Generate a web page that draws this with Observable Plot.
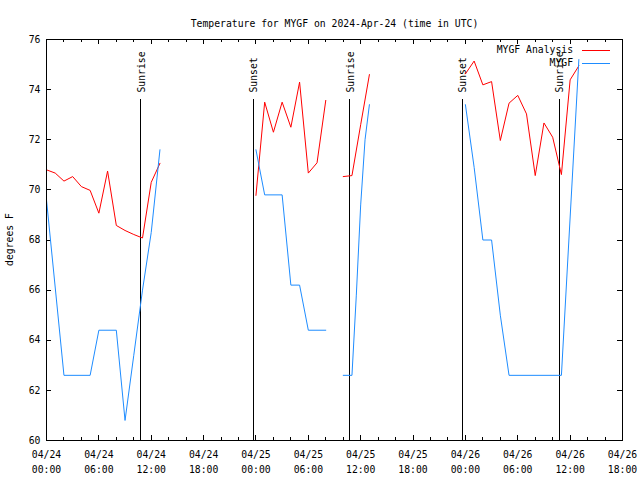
<!DOCTYPE html>
<html>
<head>
<meta charset="utf-8">
<script src="https://cdn.jsdelivr.net/npm/d3@7"></script>
<script src="https://cdn.jsdelivr.net/npm/@observablehq/plot@0.6"></script>
<style>
  html, body { margin: 0; padding: 0; background: white; }
</style>
</head>
<body>
<div id="chart"></div>
<script>
// ---- Data ----
const chartTitle = "Temperature for MYGF on 2024-Apr-24 (time in UTC)";
const yLabel = "degrees F";

// MYGF Analysis (red); null = gap in the record
const analysisTimes = [
  "2024-04-24T00:00Z","2024-04-24T01:00Z","2024-04-24T02:00Z","2024-04-24T03:00Z","2024-04-24T04:00Z",
  "2024-04-24T05:00Z","2024-04-24T06:00Z","2024-04-24T07:00Z","2024-04-24T08:00Z","2024-04-24T09:00Z",
  "2024-04-24T10:00Z","2024-04-24T11:00Z","2024-04-24T12:00Z","2024-04-24T13:00Z",
  "2024-04-24T18:00Z",
  "2024-04-25T00:00Z","2024-04-25T01:00Z","2024-04-25T02:00Z","2024-04-25T03:00Z","2024-04-25T04:00Z",
  "2024-04-25T05:00Z","2024-04-25T06:00Z","2024-04-25T07:00Z","2024-04-25T08:00Z",
  "2024-04-25T09:30Z",
  "2024-04-25T10:00Z","2024-04-25T11:00Z","2024-04-25T12:00Z","2024-04-25T13:00Z",
  "2024-04-25T18:00Z",
  "2024-04-26T00:00Z","2024-04-26T01:00Z","2024-04-26T02:00Z","2024-04-26T03:00Z","2024-04-26T04:00Z",
  "2024-04-26T05:00Z","2024-04-26T06:00Z","2024-04-26T07:00Z","2024-04-26T08:00Z","2024-04-26T09:00Z",
  "2024-04-26T10:00Z","2024-04-26T11:00Z","2024-04-26T12:00Z","2024-04-26T13:00Z"
];
const analysisTemps = [
  70.80, 70.67, 70.35, 70.53, 70.13,
  69.98, 69.07, 70.75, 68.58, 68.38,
  68.22, 68.08, 70.30, 71.06,
  null,
  69.78, 73.50, 72.30, 73.50, 72.50,
  74.30, 70.67, 71.08, 73.57,
  null,
  70.53, 70.57, 72.60, 74.60,
  null,
  74.63, 75.14, 74.19, 74.32, 71.97,
  73.46, 73.77, 73.03, 70.57, 72.67,
  72.10, 70.61, 74.39, 74.95
];

// MYGF observations (blue); null = gap in the record
const obsTimes = [
  "2024-04-24T00:00Z","2024-04-24T02:00Z","2024-04-24T05:00Z","2024-04-24T06:00Z","2024-04-24T08:00Z",
  "2024-04-24T09:00Z","2024-04-24T10:00Z","2024-04-24T11:00Z","2024-04-24T12:00Z","2024-04-24T13:00Z",
  "2024-04-24T18:00Z",
  "2024-04-25T00:00Z","2024-04-25T01:00Z","2024-04-25T03:00Z","2024-04-25T04:00Z","2024-04-25T05:00Z",
  "2024-04-25T06:00Z","2024-04-25T08:00Z",
  "2024-04-25T09:30Z",
  "2024-04-25T10:00Z","2024-04-25T11:00Z","2024-04-25T11:30Z","2024-04-25T12:00Z","2024-04-25T12:30Z",
  "2024-04-25T13:00Z",
  "2024-04-25T18:00Z",
  "2024-04-26T00:00Z","2024-04-26T01:00Z","2024-04-26T02:00Z","2024-04-26T03:00Z","2024-04-26T04:00Z",
  "2024-04-26T05:00Z","2024-04-26T11:00Z","2024-04-26T13:00Z"
];
const obsTemps = [
  69.6, 62.6, 62.6, 64.4, 64.4,
  60.8, 63.4, 66.0, 68.3, 71.6,
  null,
  71.6, 69.8, 69.8, 66.2, 66.2,
  64.4, 64.4,
  null,
  62.6, 62.6, 65.8, 69.4, 72.0,
  73.4,
  null,
  73.4, 70.9, 68.0, 68.0, 65.0,
  62.6, 62.6, 75.2
];

// Sunrise / sunset markers
const eventTimes = ["2024-04-24T10:47Z","2024-04-24T23:41Z","2024-04-25T10:46Z","2024-04-25T23:38Z","2024-04-26T10:44Z"];
const eventLabels = ["Sunrise","Sunset","Sunrise","Sunset","Sunrise"];

// Axis ticks
const xStart = "2024-04-24T00:00Z";
const xEnd = "2024-04-26T18:00Z";
const yTicks = [60, 62, 64, 66, 68, 70, 72, 74, 76];

// Legend
const seriesNames = ["MYGF Analysis", "MYGF"];
const seriesColors = ["#ff0000", "#1e8cff"];

// ---- Build tables ----
const analysis = analysisTimes.map((t, i) => ({time: new Date(t), temp: analysisTemps[i]}));
const obs = obsTimes.map((t, i) => ({time: new Date(t), temp: obsTemps[i]}));
const events = eventTimes.map((t, i) => ({time: new Date(t), label: eventLabels[i]}));
const x0 = new Date(xStart), x1 = new Date(xEnd);
const xMajor = d3.utcHour.every(6).range(x0, new Date(+x1 + 1));
const xMinor = d3.utcHour.every(2).range(x0, new Date(+x1 + 1)).filter(d => d.getUTCHours() % 6 !== 0);

const W = 640, H = 480;
const mL = 46, mR = 18, mT = 39, mB = 40;
const innerH = H - mT - mB;
const innerW = W - mL - mR;
const FONT = "'DejaVu Sans Mono', monospace";

const plot = Plot.plot({
  width: W,
  height: H,
  marginLeft: mL,
  marginRight: mR,
  marginTop: mT,
  marginBottom: mB,
  style: {fontFamily: FONT, fontSize: "9.75px", background: "white", color: "black"},
  x: {type: "utc", domain: [x0, x1]},
  y: {domain: [60, 76]},
  marks: [
    // tick marks (inside, mirrored)
    Plot.tickX(xMajor, {x: d => d, insetTop: innerH - 5, stroke: "black", shapeRendering: "crispEdges"}),
    Plot.tickX(xMajor, {x: d => d, insetBottom: innerH - 5, stroke: "black", shapeRendering: "crispEdges"}),
    Plot.tickX(xMinor, {x: d => d, insetTop: innerH - 3, stroke: "black", shapeRendering: "crispEdges"}),
    Plot.tickX(xMinor, {x: d => d, insetBottom: innerH - 3, stroke: "black", shapeRendering: "crispEdges"}),
    Plot.tickY(yTicks, {y: d => d, insetRight: innerW - 5, stroke: "black", shapeRendering: "crispEdges"}),
    Plot.tickY(yTicks, {y: d => d, insetLeft: innerW - 5, stroke: "black", shapeRendering: "crispEdges"}),
    Plot.axisX({ticks: xMajor, tickFormat: d3.utcFormat("%m/%d\n%H:%M"), tickSize: 0, tickPadding: 7, lineHeight: 1.5, label: null}),
    Plot.axisY({ticks: yTicks, tickSize: 0, tickPadding: 6, label: null}),
    // sunrise / sunset
    Plot.ruleX(events, {x: "time", insetTop: 60, stroke: "black", strokeWidth: 1, shapeRendering: "crispEdges"}),
    Plot.text(events, {x: "time", text: "label", rotate: -90, frameAnchor: "top", dy: 53, dx: -3, textAnchor: "start"}),
    // series
    Plot.line(analysis, {x: "time", y: "temp", stroke: seriesColors[0], strokeWidth: 1}),
    Plot.line(obs, {x: "time", y: "temp", stroke: seriesColors[1], strokeWidth: 1}),
    Plot.frame({stroke: "black", shapeRendering: "crispEdges"}),
    // title
    Plot.text([chartTitle], {frameAnchor: "top", dy: -19})
  ]
});

document.getElementById("chart").appendChild(plot);
const svg = d3.select(plot);

// y-axis title (rotated), centred on the frame
svg.append("text")
  .attr("transform", `translate(10,${mT + innerH / 2}) rotate(-90)`)
  .attr("text-anchor", "middle").attr("dy", "0.32em")
  .attr("font-family", FONT).attr("font-size", "9.75px").attr("fill", "black")
  .text(yLabel);

// Legend (top-right, inside the frame)
const lg = svg.append("g").attr("font-family", FONT).attr("font-size", "9.75px");
seriesNames.forEach((name, i) => {
  const yy = mT + 11 + i * 12.5;
  lg.append("text").attr("x", 573).attr("y", yy).attr("dy", "0.32em").attr("text-anchor", "end").attr("fill", "black").text(name);
  lg.append("line").attr("x1", 582).attr("x2", 610).attr("y1", Math.round(yy) + 0.5).attr("y2", Math.round(yy) + 0.5)
    .attr("stroke", seriesColors[i]).attr("stroke-width", 1).attr("shape-rendering", "crispEdges");
});
</script>
</body>
</html>
